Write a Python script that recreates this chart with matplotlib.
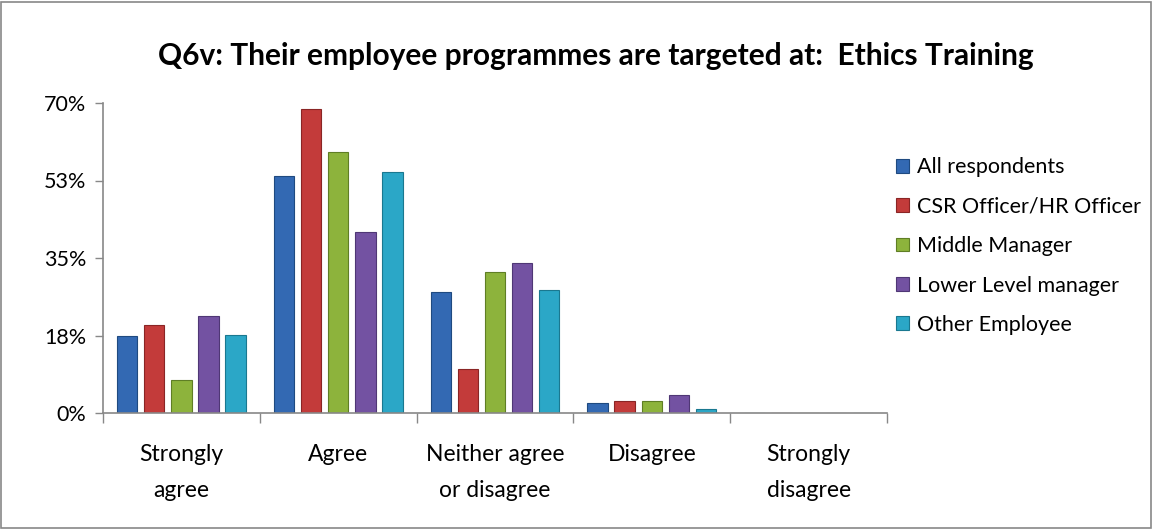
import matplotlib.pyplot as plt
from matplotlib.patches import Rectangle
import numpy as np

# Data
categories = ['Strongly\nagree', 'Agree', 'Neither agree\nor disagree', 'Disagree', 'Strongly\ndisagree']
series_names = ['All respondents', 'CSR Officer/HR Officer', 'Middle Manager',
                'Lower Level manager', 'Other Employee']
all_resp = [17.3, 53.5, 27.4, 2.3, 0]
csr_hr = [19.8, 68.7, 10.0, 2.6, 0]
middle_mgr = [7.4, 59.0, 31.9, 2.6, 0]
lower_mgr = [21.9, 40.9, 33.8, 4.1, 0]
other_emp = [17.6, 54.5, 27.7, 1.0, 0]
y_ticks = [0, 17.5, 35, 52.5, 70]
y_labels = ['0%', '18%', '35%', '53%', '70%']

series = [all_resp, csr_hr, middle_mgr, lower_mgr, other_emp]
colors = ['#3369B3', '#C33B3A', '#8DB33C', '#7352A2', '#2BA7C7']
edges = ['#1F4A80', '#8A2525', '#5F7E25', '#4F3775', '#1A7890']

plt.rcParams['font.family'] = ['Lato', 'DejaVu Sans']

fig = plt.figure(figsize=(11.53, 5.29), dpi=100)
ax = fig.add_axes([103 / 1153, 1 - 413 / 529, (887 - 103) / 1153, (413 - 103) / 529])

x = np.arange(len(categories))
step = 0.173
width = 0.13
for i, (vals, name) in enumerate(zip(series, series_names)):
    ax.bar(x + (i - 2) * step, vals, width=width, color=colors[i], edgecolor=edges[i],
           linewidth=0.8, label=name)

ax.set_xlim(-0.5, len(categories) - 0.5)
ax.set_ylim(0, 70)
ax.set_yticks(y_ticks)
ax.set_yticklabels(y_labels, fontsize=15.5)
ax.set_xticks(x)
ax.set_xticklabels(categories, fontsize=16.5, linespacing=1.9)
ax.tick_params(axis='x', length=0, pad=22)
ax.set_xticks(np.arange(len(categories) + 1) - 0.5, minor=True)
ax.tick_params(axis='x', which='minor', length=7, color='#888888', width=1)
ax.tick_params(axis='y', length=6, color='#888888', width=1, pad=6)

for s in ['top', 'right']:
    ax.spines[s].set_visible(False)
for s in ['left', 'bottom']:
    ax.spines[s].set_color('#888888')
    ax.spines[s].set_linewidth(1.2)

fig.suptitle('Q6v: Their employee programmes are targeted at:  Ethics Training',
             x=0.517, y=0.92, fontsize=21.5, fontweight='bold')

leg = fig.legend(loc='upper left', bbox_to_anchor=(877 / 1153, 1 - 138 / 529),
                 frameon=False, fontsize=15.5, handlelength=0.6, handleheight=0.6,
                 handletextpad=0.35, labelspacing=0.9)

fig.patches.append(Rectangle((0.001, 0.002), 0.997, 0.995, transform=fig.transFigure,
                             fill=False, edgecolor='#888888', linewidth=1.2))

fig.savefig('out.png', dpi=100)
